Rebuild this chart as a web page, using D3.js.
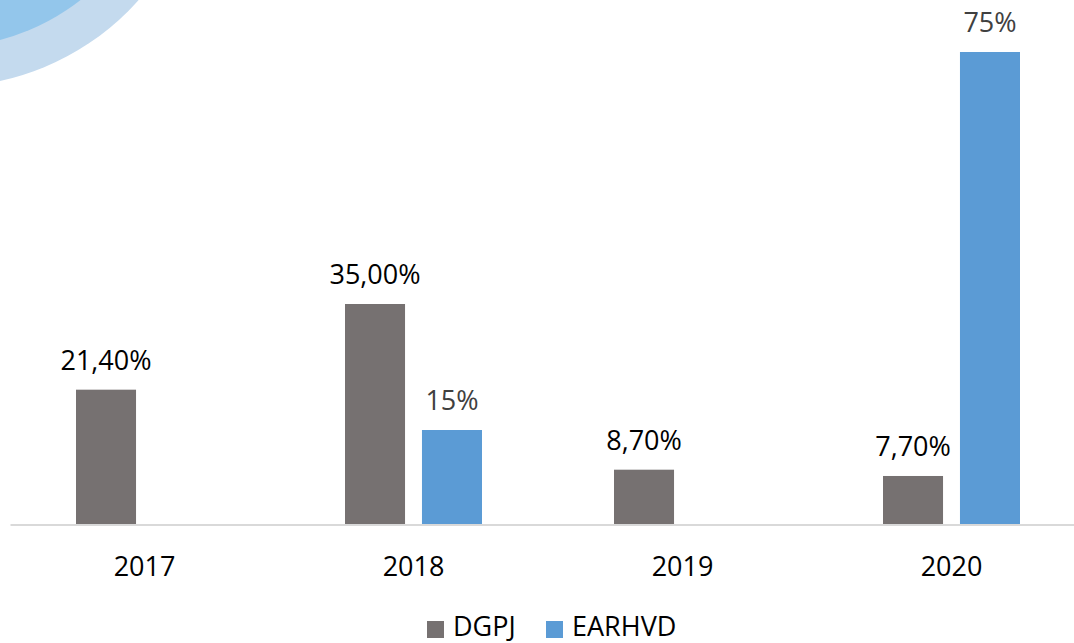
<!DOCTYPE html>
<html>
<head>
<meta charset="utf-8">
<script src="https://cdn.jsdelivr.net/npm/d3@7"></script>
<style>
  body { margin: 0; background: #fff; }
  svg { display: block; font-family: "Open Sans", Lato, sans-serif; }
</style>
</head>
<body>
<svg id="chart" width="1074" height="643"></svg>
<script>
// chart data
const years = ['2017', '2018', '2019', '2020'];
const seriesNames = ['DGPJ', 'EARHVD'];
const dgpjValues = [21.4, 35.0, 8.7, 7.7];
const earhvdValues = [null, 15, null, 75];
const dgpjLabels = ['21,40%', '35,00%', '8,70%', '7,70%'];
const earhvdLabels = [null, '15%', null, '75%'];

const colors = { DGPJ: '#767171', EARHVD: '#5b9bd5' };
const labelColors = { DGPJ: '#000000', EARHVD: '#404040' };

const svg = d3.select('#chart');

// decorative swoosh, top left
svg.append('circle')
  .attr('cx', -55).attr('cy', -172).attr('r', 259)
  .attr('fill', '#c4daee');
svg.append('circle')
  .attr('cx', -55).attr('cy', -172).attr('r', 219)
  .attr('fill', '#93c6eb');

const x = d3.scaleBand()
  .domain(years)
  .range([10, 1086]);

const x1 = d3.scaleBand()
  .domain(seriesNames)
  .range([66, 203])
  .paddingInner(0.22);

const y = d3.scaleLinear()
  .domain([0, 80])
  .range([524.5, 20.5]);

const rows = [];
years.forEach((yr, i) => {
  rows.push({ year: yr, series: 'DGPJ', value: dgpjValues[i], label: dgpjLabels[i] });
  if (earhvdValues[i] != null) {
    rows.push({ year: yr, series: 'EARHVD', value: earhvdValues[i], label: earhvdLabels[i] });
  }
});

svg.selectAll('rect.bar')
  .data(rows)
  .enter()
  .append('rect')
  .attr('class', 'bar')
  .attr('x', d => x(d.year) + x1(d.series))
  .attr('width', x1.bandwidth())
  .attr('y', d => y(d.value))
  .attr('height', d => y(0) - y(d.value))
  .attr('fill', d => colors[d.series]);

svg.selectAll('text.val')
  .data(rows)
  .enter()
  .append('text')
  .attr('class', 'val')
  .attr('x', d => x(d.year) + x1(d.series) + x1.bandwidth() / 2)
  .attr('y', d => y(d.value) - 20)
  .attr('text-anchor', 'middle')
  .attr('font-size', 27)
  .attr('fill', d => labelColors[d.series])
  .text(d => d.label);

// baseline + year labels
const axis = svg.append('g')
  .attr('transform', 'translate(0,' + y(0) + ')')
  .call(d3.axisBottom(x).tickSize(0).tickPadding(32));
axis.select('.domain').attr('stroke', '#d9d9d9').attr('stroke-width', 2);
axis.selectAll('text')
  .attr('font-size', 27)
  .attr('font-family', '"Open Sans", Lato, sans-serif')
  .attr('fill', '#000');

// legend
const legendX = [427, 546];
const legend = svg.selectAll('g.leg')
  .data(seriesNames)
  .enter()
  .append('g')
  .attr('class', 'leg')
  .attr('transform', (d, i) => 'translate(' + legendX[i] + ',621)');
legend.append('rect')
  .attr('width', 17).attr('height', 17)
  .attr('fill', d => colors[d]);
legend.append('text')
  .attr('x', 26).attr('y', 15)
  .attr('font-size', 27)
  .attr('fill', '#000')
  .text(d => d);
</script>
</body>
</html>
